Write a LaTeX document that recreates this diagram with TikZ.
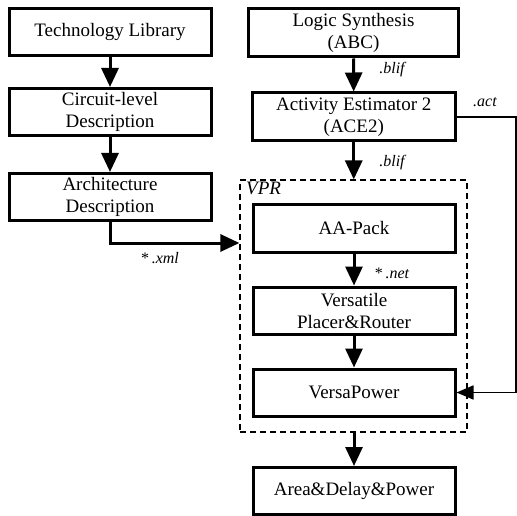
\documentclass[tikz,border=0pt]{standalone}
\usepackage{fontspec}
\setmainfont{Liberation Serif}
\usetikzlibrary{arrows.meta}
\begin{document}
\begin{tikzpicture}[x=1pt,y=-1pt,
  box/.style={draw, line width=3pt, rectangle, align=center, inner sep=0pt,
    minimum width=202pt, minimum height=47pt, font=\rmfamily\fontsize{19}{22}\selectfont},
  flow/.style={line width=3pt, -{Triangle[length=19pt,width=17pt]}},
  thinflow/.style={line width=1.6pt, -{Triangle[length=17pt,width=14pt]}},
  lbl/.style={font=\rmfamily\fontsize{16}{18}\selectfont\itshape, inner sep=0pt}]
\useasboundingbox (0,0) rectangle (517,516);
% left column
\node[box] (tech) at (110,32) {Technology Library};
\node[box] (circ) at (110,112) {Circuit-level\\Description};
\node[box] (arch) at (110,197) {Architecture\\Description};
% right column
\node[box, minimum width=210pt, minimum height=48pt] (logic) at (353.5,33) {Logic Synthesis\\(ABC)};
\node[box, minimum width=203pt, minimum height=48pt] (ace) at (353.75,117) {Activity Estimator 2\\(ACE2)};
\node[draw, line width=1.2pt, dash pattern=on 6pt off 4pt, rectangle, inner sep=0pt,
  minimum width=227pt, minimum height=252pt] (vpr) at (353.5,306) {};
\node[font=\rmfamily\fontsize{19}{22}\selectfont\itshape, anchor=base west, inner sep=0pt] (vprlbl) at (246,195) {VPR};
\node[box, minimum height=48pt] (aapack) at (354,228) {AA-Pack};
\node[box] (vpr2) at (354,310.5) {Versatile\\Placer\&Router};
\node[box] (power) at (354,392.5) {VersaPower};
\node[box] (result) at (354,491) {Area\&Delay\&Power};
% helper coordinates
\coordinate (xmly) at (0,243);
\coordinate (actx) at (516,0);
% connectors
\draw[flow] (tech) -- (circ);
\draw[flow] (circ) -- (arch);
\draw[flow] (logic) -- (ace);
\draw[flow] (ace) -- (vpr.north -| ace.south);
\draw[flow] (aapack) -- (vpr2);
\draw[flow] (vpr2) -- (power);
\draw[flow] (vpr.south -| result.north) -- (result);
\draw[flow] (arch.south) |- (vpr.west |- xmly);
\draw[thinflow] (ace.east) -- (ace.east -| actx) -- (actx |- power.east) -- (power.east);
% labels
\node[lbl] (l1) at (392,70) {.blif};
\node[lbl] (l2) at (392,163) {.blif};
\node[lbl] (l3) at (485,102) {.act};
\node[lbl] (l4) at (392,273) {\textup{*}\,.net};
\node[lbl] (l5) at (160,258) {\textup{*}\,.xml};
\end{tikzpicture}
\end{document}
